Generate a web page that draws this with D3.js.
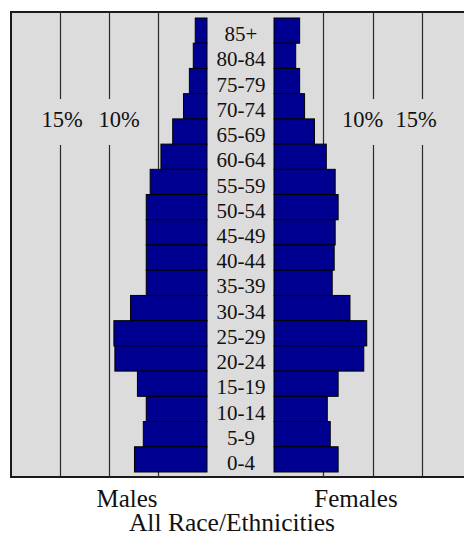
<!DOCTYPE html>
<html>
<head>
<meta charset="utf-8">
<script src="https://cdn.jsdelivr.net/npm/d3@7"></script>
<style>
  html, body { margin: 0; padding: 0; background: #ffffff; }
  svg { display: block; }
  text { font-family: "Liberation Serif", "Times New Roman", serif; fill: #111; }
</style>
</head>
<body>
<script>
// ---- data ----
const ageGroups = ["85+", "80-84", "75-79", "70-74", "65-69", "60-64", "55-59", "50-54", "45-49",
                   "40-44", "35-39", "30-34", "25-29", "20-24", "15-19", "10-14", "5-9", "0-4"];
const malePct   = [1.2, 1.4, 1.8, 2.4, 3.5, 4.7, 5.8, 6.2, 6.2, 6.2, 6.2, 7.8, 9.5, 9.4, 7.1, 6.2, 6.5, 7.4];
const femalePct = [2.6, 2.2, 2.6, 3.1, 4.1, 5.3, 6.2, 6.5, 6.2, 6.1, 5.9, 7.7, 9.4, 9.1, 6.5, 5.4, 5.7, 6.5];
const gridTicks = [5, 10, 15];
const labelTicks = [15, 10];
const sideLabels = ["Males", "Females"];
const title = "All Race/Ethnicities";

const W = 464, H = 552;
const svg = d3.select("body").append("svg").attr("width", W).attr("height", H);

const frame = { x0: 11, y0: 12, x1: 470, y1: 477 };
const xM = d3.scaleLinear().domain([0, 15]).range([207, 60]);
const xF = d3.scaleLinear().domain([0, 15]).range([274, 422]);
const y = d3.scaleBand().domain(ageGroups).range([18, 472]).padding(0);

// background frame
svg.append("rect")
  .attr("x", frame.x0).attr("y", frame.y0)
  .attr("width", frame.x1 - frame.x0).attr("height", frame.y1 - frame.y0)
  .attr("fill", "#dcdcdc").attr("stroke", "#1a1a1a").attr("stroke-width", 2);

// grid lines
const gapTop = 99, gapBot = 145;
const gridG = svg.append("g").attr("stroke", "#2a2a2a").attr("stroke-width", 1.2);
[xM, xF].forEach(sc => {
  gridTicks.forEach(t => {
    const xx = Math.round(sc(t)) + 0.5;
    if (t === 5) {
      gridG.append("line").attr("x1", xx).attr("x2", xx).attr("y1", frame.y0).attr("y2", frame.y1);
    } else {
      gridG.append("line").attr("x1", xx).attr("x2", xx).attr("y1", frame.y0).attr("y2", gapTop);
      gridG.append("line").attr("x1", xx).attr("x2", xx).attr("y1", gapBot).attr("y2", frame.y1);
    }
  });
});

// percent labels
const pctG = svg.append("g").attr("font-size", 22.5).attr("text-anchor", "middle");
const leftOffsets = { 15: 2, 10: 10 };
const rightOffsets = { 10: -10, 15: -6 };
labelTicks.forEach(t => {
  pctG.append("text").attr("x", xM(t) + leftOffsets[t]).attr("y", 127).text(t + "%");
});
labelTicks.slice().reverse().forEach(t => {
  pctG.append("text").attr("x", xF(t) + rightOffsets[t]).attr("y", 127).text(t + "%");
});

// bars
const barFill = "#000090";
svg.append("g").selectAll("rect.m")
  .data(ageGroups.map((a, i) => ({ age: a, v: malePct[i] })))
  .join("rect")
  .attr("x", d => xM(d.v)).attr("y", d => y(d.age))
  .attr("width", d => xM(0) - xM(d.v)).attr("height", y.bandwidth())
  .attr("fill", barFill).attr("stroke", "#000").attr("stroke-width", 1);

svg.append("g").selectAll("rect.f")
  .data(ageGroups.map((a, i) => ({ age: a, v: femalePct[i] })))
  .join("rect")
  .attr("x", xF(0)).attr("y", d => y(d.age))
  .attr("width", d => xF(d.v) - xF(0)).attr("height", y.bandwidth())
  .attr("fill", barFill).attr("stroke", "#000").attr("stroke-width", 1);

// age labels
svg.append("g").attr("font-size", 21).attr("text-anchor", "middle")
  .selectAll("text").data(ageGroups).join("text")
  .attr("x", (xM(0) + xF(0)) / 2 + 0.5)
  .attr("y", d => y(d) + y.bandwidth() - 2)
  .text(d => d);

// side labels
svg.append("text").attr("x", 127).attr("y", 507).attr("font-size", 25).attr("text-anchor", "middle").text(sideLabels[0]);
svg.append("text").attr("x", 356).attr("y", 507).attr("font-size", 25).attr("text-anchor", "middle").text(sideLabels[1]);

// title
svg.append("text").attr("x", 232).attr("y", 531).attr("font-size", 25.5).attr("text-anchor", "middle").text(title);
</script>
</body>
</html>
